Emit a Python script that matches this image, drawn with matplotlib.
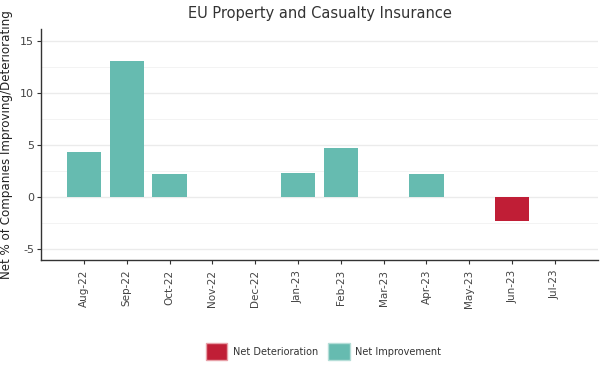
import matplotlib.pyplot as plt
from matplotlib.patches import Patch

months = ['Aug-22', 'Sep-22', 'Oct-22', 'Nov-22', 'Dec-22', 'Jan-23',
          'Feb-23', 'Mar-23', 'Apr-23', 'May-23', 'Jun-23', 'Jul-23']
net_pct = [4.3, 13.0, 2.2, 0.0, 0.0, 2.3, 4.7, 0.0, 2.2, 0.0, -2.3, 0.0]

teal = '#66bbb0'
red = '#c01e36'

fig = plt.figure(figsize=(6.05, 3.78), dpi=100)
ax = fig.add_axes([0.068, 0.312, 0.92, 0.611])

x = list(range(1, len(months) + 1))
colors = [red if v < 0 else teal for v in net_pct]
ax.bar(x, net_pct, width=0.8, color=colors, zorder=3)

ax.set_xlim(0, 13)
ax.set_ylim(-6.05, 16.1)
ax.set_xticks(x)
ax.set_xticklabels(months, rotation=90, fontsize=7.5, color='#444444')
ax.set_yticks([-5, 0, 5, 10, 15])
ax.set_yticklabels(['-5', '0', '5', '10', '15'], fontsize=8, color='#444444')
ax.set_yticks([-2.5, 2.5, 7.5, 12.5], minor=True)

ax.grid(axis='y', which='major', color='#ebebeb', linewidth=1.0, zorder=0)
ax.grid(axis='y', which='minor', color='#f3f3f3', linewidth=0.7, zorder=0)
ax.tick_params(axis='y', which='minor', length=0)
ax.tick_params(axis='y', which='major', length=3, color='#333333', pad=2)
ax.tick_params(axis='x', which='major', length=3, color='#333333', pad=4)

for side in ['top', 'right']:
    ax.spines[side].set_visible(False)
for side in ['left', 'bottom']:
    ax.spines[side].set_color('#333333')
    ax.spines[side].set_linewidth(1.0)

ax.set_title('EU Property and Casualty Insurance', fontsize=10.5,
             color='#333333', pad=8)
ax.set_ylabel('Net % of Companies Improving/Deteriorating', fontsize=8.6,
              color='#222222', labelpad=5)

handles = [Patch(facecolor=red, edgecolor='#e8a0a8', label='Net Deterioration'),
           Patch(facecolor=teal, edgecolor='#b5ded8', label='Net Improvement')]
fig.legend(handles=handles, loc='center', bbox_to_anchor=(0.535, 0.07),
           ncol=2, frameon=False, fontsize=7, handlelength=2.2,
           handleheight=2.4, columnspacing=1.0, handletextpad=0.6,
           labelcolor='#333333')

fig.savefig('out.png', dpi=100)
